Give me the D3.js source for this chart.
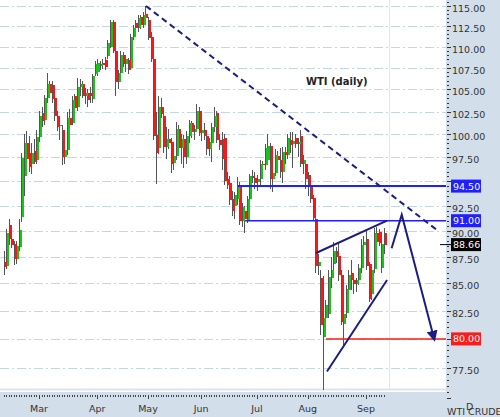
<!DOCTYPE html>
<html><head><meta charset="utf-8">
<script src="https://cdn.jsdelivr.net/npm/d3@7"></script>
<style>body{margin:0;background:#fff}svg{display:block}</style>
</head><body><svg id="c" width="500" height="417"></svg>
<script>
// ---- data ----
const opens = [87.0,86.6,90.6,89.2,88.7,87.3,88.4,91.4,95.5,99.0,98.0,96.8,98.2,97.2,
99.7,102.3,101.6,104.0,105.6,105.5,104.0,102.0,100.9,100.5,97.5,98.3,101.8,101.2,104.2,103.0,105.3,105.6,104.3,104.6,104.6,103.9,106.8,
107.0,107.7,108.1,108.4,108.9,110.0,113.0,109.5,105.8,106.9,109.0,108.0,108.4,107.5,111.2,112.9,112.3,113.6,112.6,114.0,
113.3,111.2,108.6,99.9,98.5,103.0,102.0,98.6,99.5,99.2,96.9,97.7,100.6,98.5,99.5,97.5,99.8,101.2,100.2,100.6,102.6,
100.1,100.5,99.8,98.4,99.0,100.8,102.3,99.4,99.5,99.6,95.2,94.8,93.2,92.5,93.2,94.5,91.0,92.0,91.0,93.2,95.5,95.3,
94.9,95.2,96.8,96.7,97.2,98.7,95.2,95.9,97.6,97.2,96.0,98.1,97.8,99.4,98.9,99.6,98.9,99.8,96.8,96.8,
95.6,94.4,93.3,91.2,86.6,85.5,80.2,81.8,82.2,85.5,86.8,88.0,87.6,85.8,81.3,82.3,84.4,86.0,85.3,84.9,85.3,86.4,88.6,
89.2,86.8,84.0,86.3,89.8,89.9,86.4,89.8];
const highs = [88.0,90.2,91.2,89.9,89.0,89.0,91.2,98.0,100.0,100.3,99.8,99.0,99.5,100.5,
102.6,103.0,104.4,106.9,106.0,106.0,104.5,102.6,101.8,101.0,99.8,102.4,102.8,104.3,104.5,106.3,106.2,106.0,105.2,105.0,105.3,106.8,108.3,
108.5,108.3,108.6,108.8,110.8,113.3,113.2,109.8,107.3,109.5,109.4,108.9,108.7,111.6,112.6,113.3,113.9,113.9,114.2,114.95,
113.6,111.8,109.0,102.4,104.3,104.0,102.5,100.8,100.6,99.6,98.2,101.3,101.0,100.0,99.9,100.3,101.6,101.5,101.0,103.4,103.0,
101.0,101.2,100.5,99.6,101.2,103.0,102.6,100.0,100.2,100.0,96.0,95.5,94.0,93.9,95.4,94.9,92.8,92.5,93.5,95.8,96.2,96.0,
95.7,97.2,97.1,98.9,100.0,99.0,96.5,98.4,98.2,98.5,98.6,98.6,100.0,100.2,100.2,100.0,99.6,100.5,97.8,97.0,
96.0,95.0,93.6,91.8,87.8,86.2,85.7,83.5,86.2,87.5,88.9,88.4,88.8,86.2,82.6,84.8,86.2,87.2,85.8,85.5,86.8,89.2,89.5,
90.0,87.0,86.8,90.3,90.4,90.2,89.0,90.3];
const lows = [85.8,86.3,88.6,88.3,86.7,86.8,88.0,90.9,93.5,96.5,96.0,95.8,96.8,96.8,
99.2,100.8,101.0,103.5,104.0,103.5,101.5,100.3,99.4,96.7,96.8,97.8,100.5,101.0,102.5,102.6,104.3,104.0,103.3,103.0,103.5,103.5,106.5,
106.6,107.3,107.4,107.2,108.5,109.8,109.2,104.2,105.0,106.5,107.6,107.0,106.8,107.2,110.8,111.4,111.8,112.2,112.3,113.2,
110.8,108.2,99.4,94.7,97.9,101.8,98.0,97.3,98.4,95.9,96.2,97.2,98.0,96.8,96.4,96.8,99.0,99.6,99.4,100.2,99.8,
99.3,99.4,97.8,97.6,97.0,100.2,99.0,98.3,96.2,94.6,94.2,92.6,91.5,91.2,92.6,90.6,90.4,89.8,90.8,92.8,94.8,94.2,
94.0,94.6,95.2,96.2,96.8,94.2,93.9,95.5,96.0,95.3,94.8,96.8,97.3,98.0,96.4,98.5,97.5,96.5,95.8,94.2,
93.5,92.8,91.0,86.0,85.8,80.3,75.7,80.5,81.8,84.6,85.6,86.9,85.2,81.2,79.5,81.8,83.8,84.4,84.0,84.2,84.8,86.0,87.8,
86.2,83.3,83.5,86.0,88.3,88.5,86.0,87.8];
const closes = [86.5,89.8,89.2,88.6,87.3,88.5,90.1,97.4,99.0,97.3,96.5,98.0,97.0,99.7,
102.0,101.5,104.0,105.6,104.6,103.9,102.0,100.8,101.0,97.5,98.3,101.8,101.0,103.8,102.9,105.3,105.6,104.3,104.6,103.8,104.2,106.5,108.0,
108.1,108.0,107.8,107.6,110.5,113.0,109.5,105.8,106.9,109.0,108.0,108.5,107.3,111.2,112.3,112.3,113.5,112.6,113.9,113.5,
111.0,108.5,99.8,98.0,103.0,102.2,98.6,99.5,99.0,96.8,97.7,100.6,98.5,99.5,97.5,99.8,101.2,100.2,100.6,102.6,100.1,
100.5,99.8,98.4,99.1,100.8,102.0,99.4,98.8,97.3,95.0,94.6,93.1,92.0,93.6,94.6,91.0,92.4,91.2,93.2,95.5,95.3,94.8,
95.2,96.8,96.7,98.5,98.7,95.2,95.9,97.8,97.2,96.0,98.1,97.8,99.6,98.8,99.3,98.9,99.2,96.8,97.2,95.2,
94.4,93.2,91.3,86.6,87.0,81.2,81.8,83.0,85.6,86.2,88.0,87.5,85.8,81.5,82.2,84.5,85.8,85.3,84.9,85.3,86.4,88.6,88.9,
86.6,83.6,86.2,89.8,88.9,88.8,88.7,88.66];
const monthLabels = ["Mar","Apr","May","Jun","Jul","Aug","Sep"];
const monthStart  = [14,37,57,78,100,120,143];
const priceTicks  = [77.5,80,82.5,85,87.5,90,92.5,95,97.5,100,102.5,105,107.5,110,112.5,115];
const levelPrices = [94.5,91.0,80.0];
const levelFrom   = [92.5,95.3,127.2];
const lastPrice   = 88.66;
const trendLine   = [[56.2,115.0],[171.4,90.0]];
const wedgeUpper  = [[123.3,87.85],[151.3,91.0]];
const wedgeLower  = [[127.6,77.2],[151.3,85.3]];
const projection  = [[153.1,88.3],[157.1,91.6],[169.3,80.5]];

// ---- drawing ----
const svg = d3.select("#c");
const PR = 446, PB = 391;
const x = d3.scaleLinear().domain([0,150]).range([3.5,3.5+150*2.535]);
const y = d3.scaleLog().domain([77.5,115]).range([368,6]);
const panel = "#d2dee9", navy = "#1c1c82";
const font = "DejaVu Sans, Verdana, sans-serif";

svg.append("rect").attr("x",0).attr("y",0).attr("width",500).attr("height",417).attr("fill","#fff");
svg.append("rect").attr("x",PR).attr("y",0).attr("width",500-PR).attr("height",417).attr("fill",panel);
svg.append("rect").attr("x",0).attr("y",PB+1).attr("width",PR).attr("height",417-PB).attr("fill",panel);

// grid
svg.append("g").selectAll("line").data(priceTicks).join("line")
  .attr("x1",0).attr("x2",PR).attr("y1",d=>Math.round(y(d))+0.5).attr("y2",d=>Math.round(y(d))+0.5)
  .attr("stroke","#c6d5e2").attr("stroke-width",1).attr("stroke-dasharray","9,3,2,3");
svg.append("line").attr("x1",0).attr("x2",PR).attr("y1",389.5).attr("y2",389.5).attr("stroke","#dbe4ec").attr("stroke-width",2);
svg.append("line").attr("x1",389.5).attr("x2",389.5).attr("y1",0).attr("y2",389).attr("stroke","#dde6ee");

// right axis ticks (minor every 0.5)
const minor = d3.range(75,116.01,0.5);
svg.append("g").selectAll("line").data(minor).join("line")
  .attr("x1",PR+1).attr("x2",d=>(Math.abs(d/2.5-Math.round(d/2.5))<1e-6)?PR+5:PR+3)
  .attr("y1",d=>Math.round(y(d))+0.5).attr("y2",d=>Math.round(y(d))+0.5)
  .attr("stroke","#333").attr("stroke-width",1);
const boxPrices = levelPrices.concat([lastPrice]);
const visibleTicks = priceTicks.filter(t=>boxPrices.every(p=>Math.abs(y(t)+2.5-y(p))>9));
svg.append("g").selectAll("text").data(visibleTicks).join("text")
  .attr("x",452).attr("y",d=>y(d)+6).attr("font-family",font).attr("font-size",9.5).attr("fill","#333")
  .text(d=>d.toFixed(2));

// bottom axis ticks
svg.append("g").selectAll("line").data(d3.range(0,151)).join("line")
  .attr("x1",d=>Math.round(x(d))+0.5).attr("x2",d=>Math.round(x(d))+0.5)
  .attr("y1",395).attr("y2",d=>monthStart.includes(d)?399:397)
  .attr("stroke","#444").attr("stroke-width",1);
svg.append("g").selectAll("text").data(monthLabels).join("text")
  .attr("x",(d,i)=>x(monthStart[i])).attr("y",412).attr("text-anchor","middle")
  .attr("font-family",font).attr("font-size",9.5).attr("fill","#333").text(d=>d);

// candles
const cg = svg.append("g").attr("shape-rendering","crispEdges");
const idx = d3.range(opens.length);
cg.selectAll("rect.w").data(idx).join("rect").attr("class","w")
  .attr("x",i=>Math.round(x(i))).attr("width",1)
  .attr("y",i=>y(highs[i])).attr("height",i=>Math.max(1,y(lows[i])-y(highs[i])))
  .attr("fill","#555");
cg.selectAll("rect.b").data(idx).join("rect").attr("class","b")
  .attr("x",i=>Math.round(x(i))+1).attr("width",2)
  .attr("y",i=>y(Math.max(opens[i],closes[i])))
  .attr("height",i=>Math.max(1,Math.abs(y(opens[i])-y(closes[i]))))
  .attr("fill",i=>closes[i]>=opens[i]?"#19c419":"#ff1515");

// level lines
const levelColors = ["#1f1fff","#1f1fff","#ff1a1a"];
const levelWidths = [2,1.5,1.5];
svg.append("g").selectAll("line").data(levelPrices).join("line")
  .attr("x1",(d,i)=>x(levelFrom[i])).attr("x2",PR)
  .attr("y1",d=>y(d)).attr("y2",d=>y(d))
  .attr("stroke",(d,i)=>levelColors[i]).attr("stroke-width",(d,i)=>levelWidths[i]);

// trend / wedge / projection
const line = d3.line().x(d=>x(d[0])).y(d=>y(d[1]));
svg.append("path").attr("d",line(trendLine)).attr("fill","none").attr("stroke",navy)
  .attr("stroke-width",2).attr("stroke-dasharray","6,4");
[wedgeUpper,wedgeLower].forEach(l=>svg.append("path").attr("d",line(l))
  .attr("fill","none").attr("stroke",navy).attr("stroke-width",2));
svg.append("defs").append("marker").attr("id","ah").attr("viewBox","0 0 10 10")
  .attr("refX",2).attr("refY",5).attr("markerWidth",5.5).attr("markerHeight",5.5)
  .attr("orient","auto").attr("markerUnits","strokeWidth")
  .append("path").attr("d","M0,0L10,5L0,10Z").attr("fill",navy);
svg.append("path").attr("d",line(projection)).attr("fill","none").attr("stroke",navy)
  .attr("stroke-width",2).attr("marker-end","url(#ah)");

// price boxes
const boxes = levelPrices.map((p,i)=>({p, c: levelColors[i]})).concat([{p:lastPrice,c:"#000"}]);
svg.append("line").attr("x1",440).attr("x2",452).attr("y1",y(lastPrice)).attr("y2",y(lastPrice)).attr("stroke","#000");
const bg = svg.append("g").selectAll("g").data(boxes).join("g");
bg.append("rect").attr("x",451).attr("y",d=>y(d.p)-6.5).attr("width",30).attr("height",13).attr("fill",d=>d.c);
bg.append("text").attr("x",453).attr("y",d=>y(d.p)+3.5).attr("font-family",font).attr("font-size",9.5)
  .attr("fill","#fff").text(d=>d.p.toFixed(2));

// titles
svg.append("text").attr("x",306).attr("y",85).attr("font-family",font).attr("font-weight","bold")
  .attr("font-size",10).attr("fill","#222").text("WTI (daily)");
svg.append("text").attr("x",447).attr("y",415).attr("font-family",font).attr("font-size",9.5)
  .attr("fill","#333").text("WTI CRUDE");
svg.append("text").attr("x",466).attr("y",410).attr("font-family",font).attr("font-size",9.5)
  .attr("fill","#333").text("D");
</script></body></html>
